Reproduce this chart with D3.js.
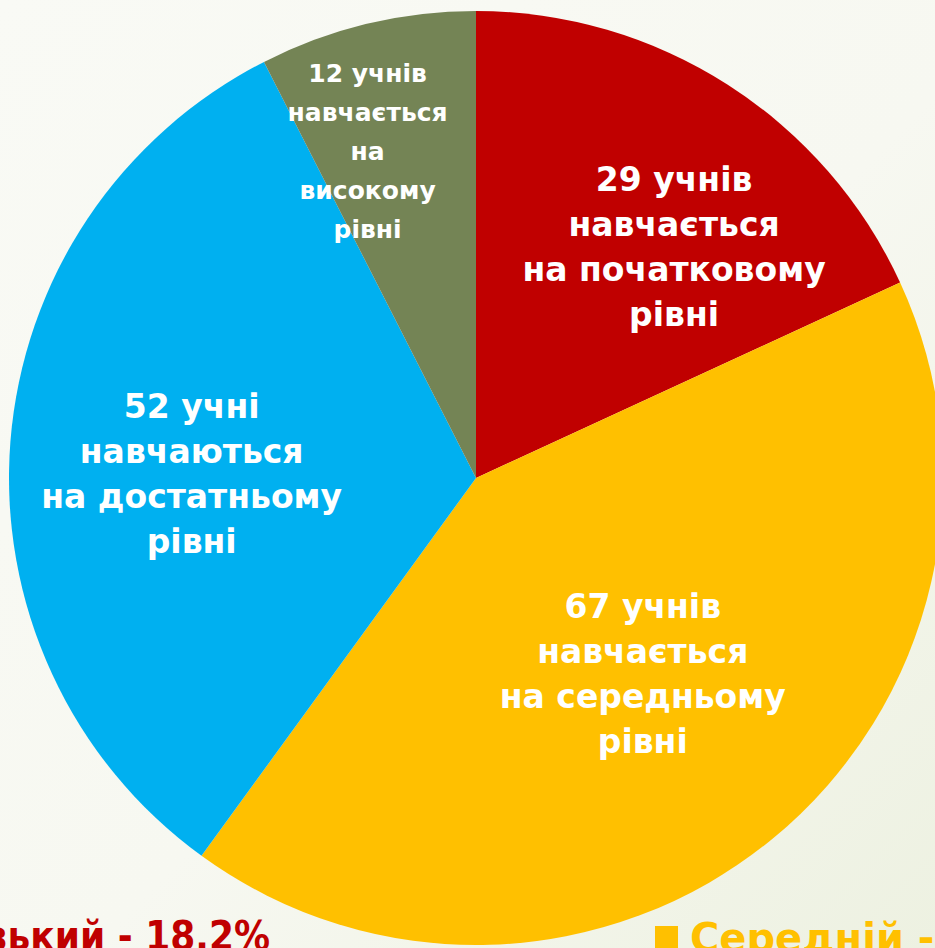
<!DOCTYPE html>
<html>
<head>
<meta charset="utf-8">
<script src="https://cdn.jsdelivr.net/npm/d3@7"></script>
<style>
  html, body { margin: 0; padding: 0; overflow: hidden; }
  svg { display: block; }
</style>
</head>
<body>
<div id="pieChart"></div>
<script>
// data
const levels = ["Початковий", "Середній", "Достатній", "Високий"]
const pupils = [29, 67, 52, 12]
const sliceLabels = [
    ["29 учнів", "навчається", "на початковому", "рівні"],
    ["67 учнів", "навчається", "на середньому", "рівні"],
    ["52 учні", "навчаються", "на достатньому", "рівні"],
    ["12 учнів", "навчається", "на", "високому", "рівні"]
]
const legendNames = ["Низький", "Середній"]
const legendValues = ["18,2%", "41,9%"]

const width = 935, height = 948
const cx = 476, cy = 478, radius = 467

const colors = ["#c00000", "#ffc000", "#00b0f0", "#748455"]
// nudges from the arc centroid, per slice
const labelNudge = [[47, 16], [-11, -9], [-5, 29], [-43, -46]]
const labelSize = [33, 33, 33, 25]
const labelStep = [45, 45, 45, 39]

const svg = d3.select("#pieChart")
    .append("svg")
    .attr("width", width)
    .attr("height", height)

const defs = svg.append("defs")
const grad = defs.append("linearGradient")
    .attr("id", "bg")
    .attr("x1", "0").attr("y1", "0")
    .attr("x2", "1").attr("y2", "1")
grad.append("stop").attr("offset", "0").attr("stop-color", "#f9faf5")
grad.append("stop").attr("offset", "0.55").attr("stop-color", "#f7f8f1")
grad.append("stop").attr("offset", "1").attr("stop-color", "#edf1e1")

svg.append("rect")
    .attr("width", width)
    .attr("height", height)
    .attr("fill", "url(#bg)")

const g = svg.append("g")
    .attr("transform", `translate(${cx}, ${cy})`)

const pie = d3.pie()
    .sort(null)
    .value(d => d)

const arcs = pie(pupils)

const arcGenerator = d3.arc()
    .innerRadius(0)
    .outerRadius(radius)

const labelArc = d3.arc()
    .innerRadius(radius * 0.6)
    .outerRadius(radius * 0.6)

g.selectAll("path")
    .data(arcs)
    .join("path")
    .attr("d", arcGenerator)
    .attr("fill", (d, i) => colors[i])

const labels = g.selectAll("text.slice")
    .data(arcs)
    .join("text")
    .attr("class", "slice")
    .attr("transform", (d, i) => {
        const c = labelArc.centroid(d)
        return `translate(${c[0] + labelNudge[i][0]}, ${c[1] + labelNudge[i][1]})`
    })
    .attr("text-anchor", "middle")
    .style("font-family", "'DejaVu Sans', sans-serif")
    .style("font-weight", "bold")
    .style("font-size", (d, i) => labelSize[i] + "px")
    .attr("fill", "#ffffff")

labels.each(function(d, i) {
    const lines = sliceLabels[i]
    const step = labelStep[i]
    d3.select(this).selectAll("tspan")
        .data(lines)
        .join("tspan")
        .attr("x", 0)
        .attr("y", (l, j) => (j - (lines.length - 1) / 2) * step)
        .text(l => l)
})

// legend, cut by the frame like the original slide
const legend = svg.append("g")
    .attr("class", "legend")
    .style("font-family", "'DejaVu Sans Condensed', 'DejaVu Sans', sans-serif")
    .style("font-weight", "bold")
    .style("font-size", "40px")

legend.append("text")
    .attr("x", 270)
    .attr("y", 950)
    .attr("text-anchor", "end")
    .attr("fill", colors[0])
    .text(`■ ${legendNames[0]} - ${legendValues[0]}`)

legend.append("rect")
    .attr("x", 655)
    .attr("y", 926)
    .attr("width", 23)
    .attr("height", 23)
    .attr("fill", colors[1])

legend.append("text")
    .attr("x", 690)
    .attr("y", 952)
    .attr("fill", colors[1])
    .style("font-family", "'DejaVu Sans', sans-serif")
    .text(`${legendNames[1]} - ${legendValues[1]}`)
</script>
</body>
</html>
